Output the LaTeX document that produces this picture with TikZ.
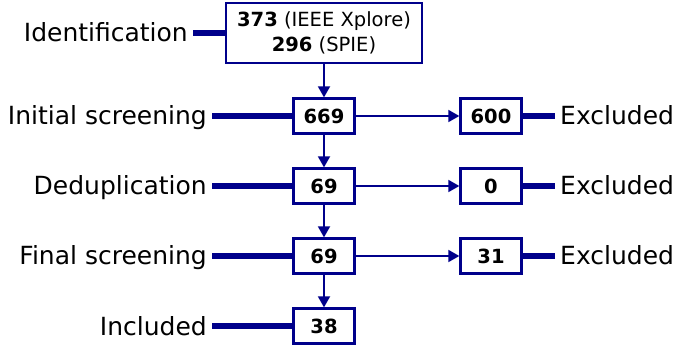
\documentclass[tikz,border=0pt]{standalone}
\usepackage{fontspec}
\setmainfont{DejaVu Sans}
\usetikzlibrary{arrows.meta}
\definecolor{navy}{RGB}{0,0,139}
\begin{document}
\begin{tikzpicture}[x=1pt,y=-1pt,
  box/.style={draw=navy,line width=2.3pt,fill=white,minimum width=61pt,minimum height=35pt,inner sep=0pt,font=\fontsize{19.5}{21}\selectfont\bfseries},
  topbox/.style={draw=navy,line width=2.3pt,fill=white,minimum width=196pt,minimum height=60pt,inner sep=0pt,align=center,font=\fontsize{19.5}{25}\selectfont},
  lab/.style={inner xsep=5pt,inner ysep=0pt,font=\fontsize{25}{27}\selectfont},
  thickline/.style={draw=navy,line width=5.5pt},
  flow/.style={draw=navy,line width=1.8pt,-{Triangle[length=11pt,width=12pt]}}]
\useasboundingbox (0,0) rectangle (674,347);
\node[topbox] (t) at (324,33) {\textbf{373} (IEEE Xplore)\\\textbf{296} (SPIE)};
\node[box] (b1) at (324,116) {669};
\node[box] (b2) at (324,186) {69};
\node[box] (b3) at (324,256) {69};
\node[box] (b4) at (324,326) {38};
\node[box] (e1) at (491,116) {600};
\node[box] (e2) at (491,186) {0};
\node[box] (e3) at (491,256) {31};
\node[lab,anchor=base east] (l0) at (193,42) {Identification};
\node[lab,anchor=base east] (l1) at (212,125) {Initial screening};
\node[lab,anchor=base east] (l2) at (212,195) {Deduplication};
\node[lab,anchor=base east] (l3) at (212,265) {Final screening};
\node[lab,anchor=base east] (l4) at (212,335) {Included};
\node[lab,anchor=base west] (r1) at (555,125) {Excluded};
\node[lab,anchor=base west] (r2) at (555,195) {Excluded};
\node[lab,anchor=base west] (r3) at (555,265) {Excluded};
\draw[thickline] (l0.east |- t.west) -- (t.west);
\draw[thickline] (l1.east |- b1.west) -- (b1.west);
\draw[thickline] (l2.east |- b2.west) -- (b2.west);
\draw[thickline] (l3.east |- b3.west) -- (b3.west);
\draw[thickline] (l4.east |- b4.west) -- (b4.west);
\draw[thickline] (e1.east) -- (r1.west |- e1.east);
\draw[thickline] (e2.east) -- (r2.west |- e2.east);
\draw[thickline] (e3.east) -- (r3.west |- e3.east);
\draw[flow] (t.south) -- (b1.north);
\draw[flow] (b1.south) -- (b2.north);
\draw[flow] (b2.south) -- (b3.north);
\draw[flow] (b3.south) -- (b4.north);
\draw[flow] (b1.east) -- (e1.west);
\draw[flow] (b2.east) -- (e2.west);
\draw[flow] (b3.east) -- (e3.west);
\end{tikzpicture}
\end{document}
